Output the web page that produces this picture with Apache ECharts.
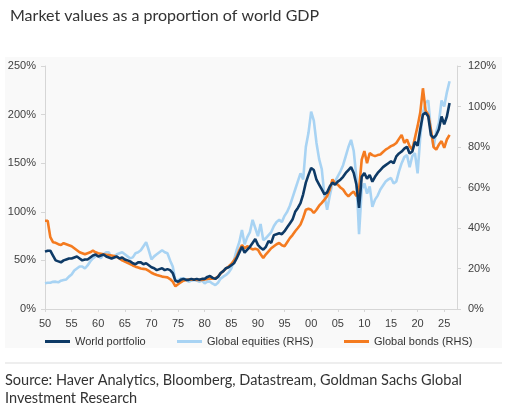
<!DOCTYPE html>
<html>
<head>
<meta charset="utf-8">
<script src="https://cdn.jsdelivr.net/npm/echarts@6/dist/echarts.min.js"></script>
<style>
  html, body { margin: 0; padding: 0; background: #fff; }
  #chart { width: 507px; height: 410px; }
</style>
</head>
<body>
<div id="chart"></div>
<script>
// half-year steps, 1950.0 -> 2026.0
var startYear = 1950;
var step = 0.5;

// World portfolio, % of world GDP (LHS)
var worldPortfolio = [
  59, 60, 60, 55, 50, 49, 48, 50, 51, 52,      // 1950-54
  52, 53, 54, 52, 50, 51, 51, 53, 55, 56,      // 1955-59
  54, 55, 56, 54, 53, 52, 53, 54, 52, 53,      // 1960-64
  51, 50, 49, 47, 46, 48, 48, 46, 47, 45,      // 1965-69
  43, 42, 40, 41, 42, 40, 41, 40, 37, 29,      // 1970-74
  28, 30, 31, 30, 30, 31, 30, 31, 30, 31,      // 1975-79
  31, 33, 34, 32, 31, 33, 37, 39, 42, 43,      // 1980-84
  45, 47, 52, 58, 64, 58, 61, 64, 68, 72,      // 1985-89
  66, 63, 61, 64, 70, 68, 76, 77, 78, 77,      // 1990-94
  80, 84, 88, 92, 100, 104, 109, 118, 130, 138, // 1995-99
  145, 143, 133, 128, 123, 118, 120, 126, 130, 128, // 2000-04
  131, 133, 136, 140, 143, 146, 140, 128, 104, 136, // 2005-09
  140, 134, 138, 131, 136, 140, 143, 146, 148, 150, // 2010-14
  152, 150, 157, 160, 162, 165, 167, 160, 162, 172, // 2015-19
  168, 185, 200, 202, 198, 179, 176, 179, 185, 198, // 2020-24
  190, 198, 212                                      // 2025-26
];

// Global equities, % of world GDP (RHS)
var globalEquities = [
  12.7, 13, 13, 13.4, 13.5, 13.2, 14, 14.3, 14.6, 16,
  17, 19, 20, 21, 21, 20, 21.5, 23.5, 25, 26,
  26.5, 25, 27, 28, 28, 25, 26, 27, 27.5, 28,
  27, 26, 25, 25.5, 27.5, 28, 29, 31, 33, 29,
  24.5, 26, 27, 28, 29, 28, 27.5, 24, 21, 14,
  14.3, 15, 15.2, 14.5, 13.5, 14, 14.3, 14, 13.5, 14,
  12.7, 13.5, 13.5, 12.5, 11.8, 13, 15, 16, 16.8, 18,
  20, 24, 29, 33, 39, 32, 35.5, 38, 44, 40,
  36, 42, 34, 35, 36.5, 38, 41, 43, 44, 43,
  46, 48, 51, 55, 59, 63, 67, 64, 80, 87,
  97.5, 93, 82, 74, 69, 56, 49, 56, 62, 63,
  65.5, 68, 71, 75.5, 80, 83.5, 78, 65, 37, 59,
  62, 57, 60.5, 50.5, 54, 56, 59, 61, 63, 64,
  64.7, 62, 63, 68, 72, 75, 76, 70, 75.5, 77,
  67, 85, 97, 102, 103, 88, 80, 87.5, 92, 103,
  100, 107, 112.5
];

// Global bonds, % of world GDP (RHS)
var globalBonds = [
  43.6, 43.6, 35.5, 33, 32.7, 32, 31.6, 32.5, 32, 31.5,
  31, 30, 29, 28, 27.5, 27, 27.5, 28, 28.8, 28,
  27.5, 27.3, 27, 26.8, 26.6, 26.4, 26.2, 25.6, 25, 24,
  23.4, 22.8, 22.2, 21.5, 20.9, 20.5, 20, 19.8, 19.6, 18.8,
  17.9, 17.3, 16.8, 16.4, 16, 15.8, 15.6, 14.8, 13.5, 11.2,
  12.2, 13.2, 14, 14.3, 14.6, 14.5, 14.6, 14.3, 14.3, 14.4,
  14.6, 14.8, 15.1, 15, 15.1, 16, 17.6, 18.8, 20, 21,
  22.2, 24, 25.8, 29, 31.6, 30, 31, 30.2, 29.4, 29.8,
  29.3, 27, 25.2, 27, 28.5, 30, 31, 32, 32.6, 31.5,
  31, 33, 35, 36.5, 38.4, 40, 41.7, 45, 49, 49.5,
  49, 47.4, 49, 51, 52.4, 54, 55.7, 59, 64, 62,
  61.4, 60, 59, 57, 55.7, 57, 58, 55.7, 59, 73.8,
  78, 72, 77, 76, 75.5, 76, 76.3, 77.5, 78.7, 79.5,
  80.4, 81, 82, 84, 86, 82, 83.7, 80.4, 78.7, 84.5,
  90.3, 97, 109, 98, 96, 88.6, 80, 78.7, 81.2, 82.9,
  79.6, 83.7, 86
];

var seriesNames = ['World portfolio', 'Global equities (RHS)', 'Global bonds (RHS)'];
var lineColors = ['#0e3a66', '#a8d3f3', '#f47b20'];

function pairs(vals) {
    var out = [];
    for (var i = 0; i < vals.length; i++) {
        out.push([startYear + i * step, vals[i]]);
    }
    return out;
}

function legendItem(name, left) {
    return {
        data: [name], left: left, top: 331,
        icon: 'rect', itemWidth: 25, itemHeight: 3,
        textStyle: { color: '#333', fontSize: 11, fontFamily: 'Liberation Sans, Arial, sans-serif' }
    };
}

var axisGrey = '#d6d6d6';
var labelStyle = { color: '#404040', fontSize: 11, fontFamily: 'Liberation Sans, Arial, sans-serif' };

var myChart = echarts.init(document.getElementById('chart'));
var option = {
    animation: false,
    backgroundColor: '#fff',
    title: {
        text: 'Market values as a proportion of world GDP',
        left: 5, top: 3,
        textStyle: { color: '#333', fontSize: 16, fontWeight: 'normal', fontFamily: 'Lato, sans-serif' }
    },
    graphic: [
        { type: 'rect', z: -10, shape: { x: 5, y: 57, width: 497, height: 291 }, style: { fill: '#f9f9f9' } },
        { type: 'line', shape: { x1: 5, y1: 363, x2: 502, y2: 363 }, style: { stroke: '#dddddd', lineWidth: 1 } },
        { type: 'text', left: 5, top: 371, style: {
            text: 'Source: Haver Analytics, Bloomberg, Datastream, Goldman Sachs Global\nInvestment Research',
            fill: '#333', fontSize: 14.5, lineHeight: 18, fontFamily: 'Lato, sans-serif' } }
    ],
    legend: [
        legendItem(seriesNames[0], 40),
        legendItem(seriesNames[1], 172),
        legendItem(seriesNames[2], 339)
    ],
    grid: { left: 45, right: 50, top: 66, bottom: 101 },
    xAxis: {
        type: 'value', min: 1950, max: 2027.4, interval: 5,
        axisLine: { lineStyle: { color: axisGrey } },
        axisTick: { show: true, length: 3, lineStyle: { color: axisGrey } },
        splitLine: { show: false },
        axisLabel: Object.assign({
            margin: 9, showMaxLabel: false,
            formatter: function (v) { var s = String(v % 100); return s.length < 2 ? '0' + s : s; }
        }, labelStyle)
    },
    yAxis: [{
        type: 'value', min: 0, max: 250, interval: 50,
        axisLine: { show: true, lineStyle: { color: axisGrey } },
        axisTick: { show: true, length: 4, lineStyle: { color: axisGrey } },
        splitLine: { show: false },
        axisLabel: Object.assign({ margin: 9, formatter: '{value}%' }, labelStyle)
    }, {
        type: 'value', min: 0, max: 120, interval: 20,
        axisLine: { show: true, lineStyle: { color: axisGrey } },
        axisTick: { show: true, length: 4, lineStyle: { color: axisGrey } },
        splitLine: { show: false },
        axisLabel: Object.assign({ margin: 11, formatter: '{value}%' }, labelStyle)
    }],
    color: lineColors,
    series: [{
        name: seriesNames[0], type: 'line', yAxisIndex: 0, z: 4,
        showSymbol: false, data: pairs(worldPortfolio),
        lineStyle: { width: 2.6, color: lineColors[0] }
    }, {
        name: seriesNames[1], type: 'line', yAxisIndex: 1, z: 2,
        showSymbol: false, data: pairs(globalEquities),
        lineStyle: { width: 2.6, color: lineColors[1] }
    }, {
        name: seriesNames[2], type: 'line', yAxisIndex: 1, z: 3,
        showSymbol: false, data: pairs(globalBonds),
        lineStyle: { width: 2.6, color: lineColors[2] }
    }]
};
myChart.setOption(option);
</script>
</body>
</html>
